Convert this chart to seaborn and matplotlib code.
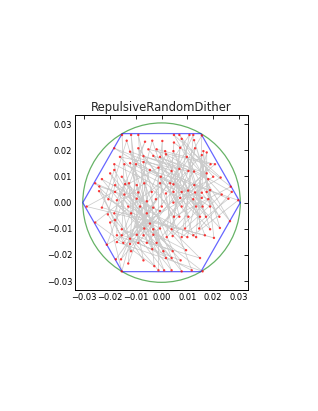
import math
import numpy as np
import pandas as pd
import matplotlib
matplotlib.use("Agg")
import matplotlib.pyplot as plt
from matplotlib.patches import Circle
import seaborn as sns

# dither sample positions (data units)
pts_x = [-0.0153, -0.0118, -0.0090, -0.0135, -0.0064, -0.0036, 0.0003, -0.0090, -0.0051, -0.0019,
         -0.0183, -0.0122, -0.0161, -0.0070, -0.0032, -0.0006,
         0.0048, 0.0069, 0.0108, 0.0123, 0.0156, 0.0078, 0.0126, 0.0048, 0.0072, 0.0130,
         0.0014, 0.0046, 0.0162, 0.0175, 0.0156, 0.0098, 0.0017,
         -0.0183, -0.0144, -0.0122, -0.0099, -0.0070, -0.0045, -0.0012, -0.0183, -0.0199, -0.0154,
         -0.0231, -0.0257, -0.0180, -0.0141, -0.0126, -0.0096, -0.0067, -0.0006, -0.0242, -0.0180,
         -0.0144, -0.0090, -0.0038, -0.0206, -0.0173, -0.0096, -0.0022, -0.0057,
         0.0190, 0.0207, 0.0039, 0.0069, 0.0104, 0.0126, 0.0175, 0.0181, 0.0229, 0.0200,
         -0.0003, 0.0033, 0.0046, 0.0127, 0.0188, 0.0268, 0.0046, 0.0078, 0.0103, 0.0130,
         0.0156, 0.0175, 0.0017, 0.0233, 0.0272, 0.0072, 0.0123, 0.0156, 0.0181, 0.0259, 0.0297,
         -0.0290, -0.0231, -0.0129, -0.0083, -0.0032, -0.0006, -0.0208, -0.0183, -0.0118, -0.0057,
         -0.0257, -0.0199, -0.0180, -0.0045, -0.0154, -0.0067, -0.0032, -0.0006, -0.0173, -0.0154,
         -0.0096, -0.0070, -0.0032, -0.0122, -0.0173, -0.0148, -0.0122, -0.0090, -0.0057, -0.0019,
         -0.0212,
         0.0046, 0.0001, 0.0078, 0.0134, 0.0159, 0.0188, 0.0048, 0.0069, 0.0104, 0.0149,
         0.0172, 0.0224, 0.0265, 0.0039, 0.0091, 0.0146, 0.0188, 0.0226, 0.0020, 0.0043,
         0.0078, 0.0123, 0.0168, 0.0203, 0.0100, 0.0134,
         -0.0177, -0.0157, -0.0118, -0.0070, -0.0036, -0.0129, -0.0028, -0.0154, -0.0012,
         0.0007, 0.0043, 0.0095, 0.0017, 0.0039, 0.0074, 0.0149, 0.0010, 0.0039, 0.0078,
         0.0117, 0.0159,
         -0.0241]
pts_y = [0.0259, 0.0259, 0.0259, 0.0237, 0.0233, 0.0237, 0.0236, 0.0208, 0.0204, 0.0204,
         0.0208, 0.0195, 0.0175, 0.0178, 0.0179, 0.0175,
         0.0259, 0.0259, 0.0259, 0.0259, 0.0257, 0.0244, 0.0239, 0.0230, 0.0210, 0.0208,
         0.0197, 0.0197, 0.0197, 0.0192, 0.0182, 0.0175, 0.0185,
         0.0147, 0.0147, 0.0151, 0.0147, 0.0155, 0.0125, 0.0134, 0.0125, 0.0112, 0.0099,
         0.0090, 0.0074, 0.0067, 0.0071, 0.0074, 0.0067, 0.0074, 0.0074, 0.0044, 0.0041,
         0.0031, 0.0039, 0.0041, 0.0013, 0.0009, 0.0015, 0.0013, 0.0005,
         0.0147, 0.0147, 0.0121, 0.0129, 0.0121, 0.0119, 0.0112, 0.0090, 0.0096, 0.0099,
         0.0099, 0.0074, 0.0070, 0.0067, 0.0048, 0.0061, 0.0041, 0.0041, 0.0046, 0.0039,
         0.0038, 0.0041, 0.0035, 0.0031, 0.0041, 0.0018, 0.0013, 0.0018, 0.0013, 0.0015, 0.0009,
         -0.0015, -0.0019, -0.0015, -0.0015, -0.0019, -0.0032, -0.0045, -0.0041, -0.0041, -0.0041,
         -0.0076, -0.0076, -0.0067, -0.0080, -0.0102, -0.0099, -0.0102, -0.0099, -0.0125, -0.0125,
         -0.0123, -0.0125, -0.0123, -0.0138, -0.0151, -0.0154, -0.0158, -0.0154, -0.0154, -0.0154,
         -0.0161,
         0.0000, -0.0015, -0.0015, -0.0015, -0.0015, -0.0015, -0.0054, -0.0054, -0.0054, -0.0054,
         -0.0054, -0.0054, -0.0071, -0.0102, -0.0099, -0.0099, -0.0102, -0.0097, -0.0132, -0.0128,
         -0.0132, -0.0125, -0.0125, -0.0135, -0.0132, -0.0132,
         -0.0217, -0.0217, -0.0186, -0.0221, -0.0178, -0.0233, -0.0243, -0.0263, -0.0259,
         -0.0186, -0.0186, -0.0182, -0.0212, -0.0212, -0.0221, -0.0212, -0.0259, -0.0259, -0.0263,
         -0.0259, -0.0263,
         0.0062]

radius = 0.0305
hex_angles = [0, 60, 120, 180, 240, 300, 360]
ticks = [-0.03, -0.02, -0.01, 0.00, 0.01, 0.02, 0.03]

n = len(pts_x)
# visiting order of the path: jump through the list with a fixed stride
step = 53
while math.gcd(step, n) != 1:
    step += 1
order = [(i * step) % n for i in range(n)]
df = pd.DataFrame({"x": pts_x, "y": pts_y})
path = df.iloc[order].reset_index(drop=True)

sns.set_style("white", {"xtick.direction": "in", "ytick.direction": "in"})

fig = plt.figure(figsize=(3.18, 4.11), dpi=100)
ax = fig.add_axes([0.236, 0.294, 0.544, 0.426])

sns.lineplot(data=path, x="x", y="y", sort=False, estimator=None, ax=ax,
             color="0.8", linewidth=0.55)
ang = np.radians(hex_angles)
ax.plot(radius * np.cos(ang), radius * np.sin(ang), color="blue", alpha=0.6, lw=0.9)
ax.add_patch(Circle((0, 0), radius, fill=False, edgecolor="green", alpha=0.6, lw=0.9))
sns.scatterplot(data=df, x="x", y="y", ax=ax, color="red", s=3, marker="o",
                edgecolor="none", alpha=0.75, zorder=5)

ax.set_xlim(-0.0335, 0.0335)
ax.set_ylim(-0.0335, 0.0335)
ax.set_xticks(ticks)
ax.set_yticks(ticks)
ax.set_xticklabels([f"{t:.2f}".replace("-", "\u2212") for t in ticks])
ax.set_yticklabels([f"{t:.2f}".replace("-", "\u2212") for t in ticks])
ax.set_xlabel("")
ax.set_ylabel("")
ax.tick_params(top=True, right=True, direction="in", length=3, width=0.6,
               labelsize=6, pad=2, colors="black")
for sp in ax.spines.values():
    sp.set_color("black")
    sp.set_linewidth(0.7)
ax.set_title("RepulsiveRandomDither", fontsize=8.4, pad=3)

fig.savefig("out.png", dpi=100)
